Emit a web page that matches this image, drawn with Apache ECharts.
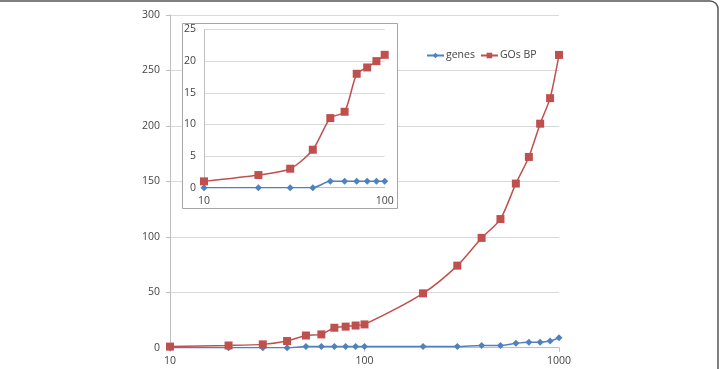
<!DOCTYPE html>
<html>
<head>
<meta charset="utf-8">
<script src="https://cdn.jsdelivr.net/npm/echarts@6/dist/echarts.min.js"></script>
<style>html,body{margin:0;padding:0;background:#fff}#c{width:720px;height:369px}</style>
</head>
<body>
<div id="c"></div>
<script>
// Main chart data
var mainX = [10,20,30,40,50,60,70,80,90,100,200,300,400,500,600,700,800,900,1000];
var mainGenes = [0,0,0,0,1,1,1,1,1,1,1,1,2,2,4,5,5,6,9];
var mainGOs = [1,2,3,6,11,12,18,19,20,21,49,74,99,116,148,172,202,225,264];
// Inset data
var insetX = [10,20,30,40,50,60,70,80,90,100];
var insetGenes = [0,0,0,0,1,1,1,1,1,1];
var insetGOs = [1,2,3,6,11,12,18,19,20,21];
var seriesNames = ['genes','GOs BP'];

function pairs(xs, ys){ return xs.map(function(x,i){ return [x, ys[i]]; }); }

var font = 'Open Sans, Liberation Sans, sans-serif';
var blue = '#4F81BD', red = '#C0504D';
var chart = echarts.init(document.getElementById('c'));
chart.setOption({
  animation: false,
  backgroundColor: '#fff',
  textStyle: {fontFamily: font},
  graphic: {elements: [
    {type:'rect', z: 100, silent:true, shape:{x:-10, y:1, width:728, height:380, r:8}, style:{fill:'none', stroke:'#555', lineWidth:1.5}},
    {type:'rect', z: 1, silent:true, shape:{x:182.5, y:23.5, width:215, height:185}, style:{fill:'#fff', stroke:'#a6a6a6', lineWidth:1}}
  ]},
  legend: {
    data: seriesNames, left: 421, top: 45, itemWidth: 17, itemHeight: 7, itemGap: 5,
    textStyle: {fontSize: 10.5, color: '#444', fontFamily: font, padding:[0,0,0,-3]}
  },
  grid: [
    {left:170, right:161, top:15, bottom:21.3, containLabel:false},
    {left:204, right:335.3, top:29.5, bottom:181.3, containLabel:false, z:2}
  ],
  xAxis: [
    {type:'log', logBase:10, min:10, max:1000, gridIndex:0, z:0,
     axisLine:{lineStyle:{color:'#bfbfbf'}}, axisTick:{show:true, length:4, lineStyle:{color:'#bfbfbf'}},
     axisLabel:{color:'#444', fontSize:10.5, margin:8, formatter:function(v){return String(Math.round(v));}},
     splitLine:{show:false}, minorTick:{show:false}},
    {type:'log', logBase:10, min:10, max:100, gridIndex:1, z:2,
     axisLine:{lineStyle:{color:'#bfbfbf'}}, axisTick:{show:false},
     axisLabel:{color:'#444', fontSize:10.5, margin:8, formatter:function(v){return String(Math.round(v));}},
     splitLine:{show:false}}
  ],
  yAxis: [
    {type:'value', min:0, max:300, interval:50, gridIndex:0, z:0,
     axisLine:{show:true, lineStyle:{color:'#bfbfbf'}}, axisTick:{show:true, length:4, lineStyle:{color:'#bfbfbf'}},
     axisLabel:{color:'#444', fontSize:10.5, margin:10}, splitLine:{lineStyle:{color:'#d9d9d9'}}},
    {type:'value', min:0, max:25, interval:5, gridIndex:1, z:2,
     axisLine:{show:true, lineStyle:{color:'#bfbfbf'}}, axisTick:{show:false},
     axisLabel:{color:'#444', fontSize:10.5, margin:8}, splitLine:{lineStyle:{color:'#d9d9d9'}}}
  ],
  series: [
    {name:'genes', type:'line', xAxisIndex:0, yAxisIndex:0, smooth:0.25, z:3, data: pairs(mainX, mainGenes),
     symbol:'diamond', symbolSize:7, itemStyle:{color:blue}, lineStyle:{color:blue, width:1.5}},
    {name:'GOs BP', type:'line', xAxisIndex:0, yAxisIndex:0, smooth:0.25, z:3, data: pairs(mainX, mainGOs),
     symbol:'rect', symbolSize:8, itemStyle:{color:red}, lineStyle:{color:red, width:1.5}},
    {name:'genes', type:'line', xAxisIndex:1, yAxisIndex:1, smooth:0.25, z:4, data: pairs(insetX, insetGenes),
     symbol:'diamond', symbolSize:7, itemStyle:{color:blue}, lineStyle:{color:blue, width:1.5}},
    {name:'GOs BP', type:'line', xAxisIndex:1, yAxisIndex:1, smooth:0.25, z:4, data: pairs(insetX, insetGOs),
     symbol:'rect', symbolSize:8, itemStyle:{color:red}, lineStyle:{color:red, width:1.5}}
  ]
});
</script>
</body>
</html>
